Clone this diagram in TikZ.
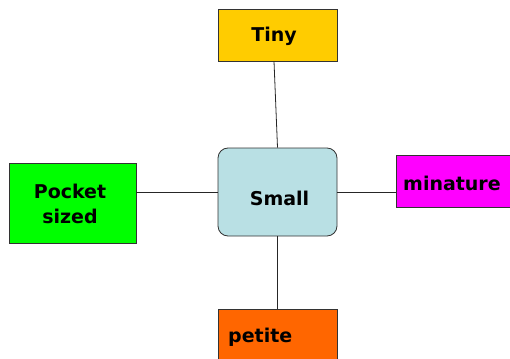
\documentclass[tikz,border=0pt]{standalone}
\usepackage{fontspec}
\setmainfont{DejaVu Sans}
\begin{document}
\begin{tikzpicture}[x=1pt,y=-1pt,
  box/.style={draw=black!80,line width=0.8pt,inner sep=0pt},
  lbl/.style={inner sep=0pt,font=\bfseries\fontsize{19}{25}\selectfont},
  link/.style={draw=black!85,line width=0.8pt}]
\useasboundingbox (0,0) rectangle (510,358);
\clip (0,0) rectangle (510,358);
\definecolor{tinyc}{HTML}{FFCC00}
\definecolor{smallc}{HTML}{B9E0E4}
\definecolor{pocketc}{HTML}{00FF00}
\definecolor{minc}{HTML}{FF00FF}
\definecolor{petc}{HTML}{FF6600}
\node[box,fill=tinyc,minimum width=119pt,minimum height=52pt] (tiny) at (277.5,35) {};
\node[lbl,anchor=base] (tinyt) at (274,42) {Tiny};
\node[box,fill=smallc,rounded corners=10pt,minimum width=119pt,minimum height=88pt] (small) at (277.5,192) {};
\node[lbl,anchor=base] (smallt) at (279.5,205) {Small};
\node[box,fill=pocketc,minimum width=127pt,minimum height=80pt] (pocket) at (72.5,203) {};
\node[lbl,anchor=base,align=center] (pockett) at (70,223) {Pocket\\sized};
\node[box,fill=minc,minimum width=124pt,minimum height=52pt] (mina) at (458,181) {};
\node[lbl,anchor=base west] (minat) at (403,190) {minature};
\node[box,fill=petc,minimum width=119pt,minimum height=56pt] (pet) at (277.5,337) {};
\node[lbl,anchor=base west] (pett) at (228,342) {petite};
\draw[link] ([xshift=-3.5pt]tiny.south) -- (small.north);
\draw[link] (pocket.east |- small.west) -- (small.west);
\draw[link] (small.east) -- (mina.west |- small.east);
\draw[link] (small.south) -- (pet.north);
\end{tikzpicture}
\end{document}
